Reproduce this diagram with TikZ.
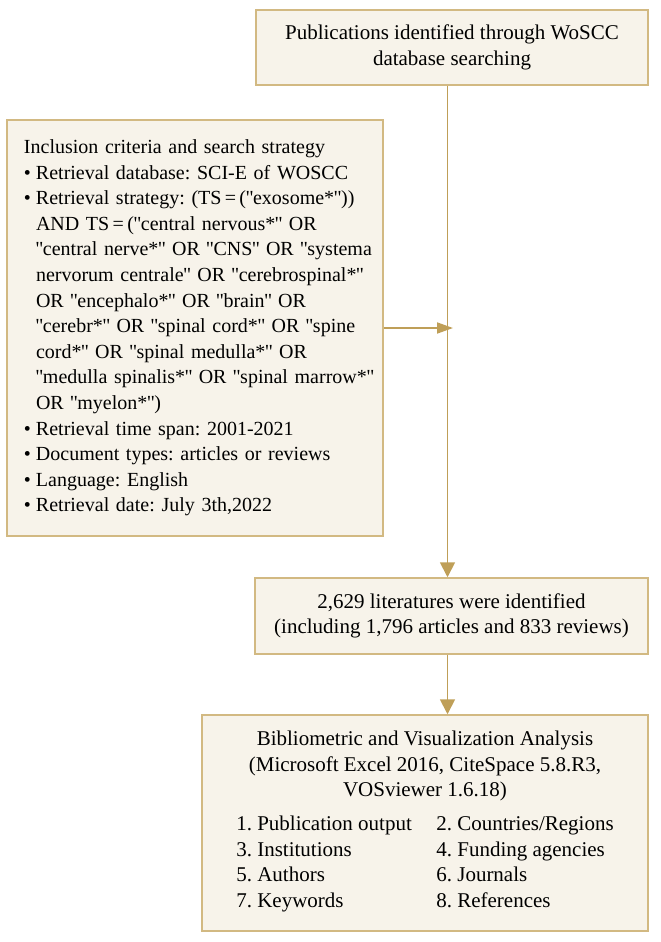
\documentclass[tikz,border=0pt]{standalone}
\usepackage{fontspec}
\setmainfont{Liberation Serif}
\usetikzlibrary{arrows.meta}
\definecolor{boxfill}{HTML}{F7F3EA}
\definecolor{boxline}{HTML}{D2B982}
\definecolor{arrowline}{HTML}{BF9F58}
\newcommand{\dq}{\kern-0.3pt\textquotedbl\kern-0.3pt}
\newcommand{\critem}[1]{\mbox{\textbullet\hspace{2.5pt}#1}}
\newcommand{\critind}[1]{\mbox{\phantom{\textbullet}\hspace{2.5pt}#1}}
\tikzset{
  flowbox/.style={draw=boxline,fill=boxfill,line width=0.75pt,rectangle,align=center,
    font=\fontsize{10.5}{12.75}\selectfont\frenchspacing},
  flowarrow/.style={draw=arrowline,line width=0.9pt,-{Triangle[length=7.5pt,width=7.5pt]}}
}

\begin{document}
\begin{tikzpicture}[x=0.5pt,y=-0.5pt]
      \useasboundingbox (0,0) rectangle (660,942);
      \node [flowbox,minimum width=196pt,minimum height=37.5pt] (wos) at (452,47.5)
        {Publications identified through WoSCC\\database searching};
      \node [flowbox,align=left,text width=171pt,inner xsep=8.5pt,minimum height=208pt,
        font=\fontsize{10}{12.8}\selectfont\frenchspacing] (crit) at (195,328)
        {\mbox{Inclusion criteria and search strategy}\\
         \critem{Retrieval database: SCI-E of WOSCC}\\
         \critem{Retrieval strategy: (TS\,=\,(\dq exosome*\dq))}\\
         \critind{AND TS\,=\,(\dq central nervous*\dq{} OR}\\
         \critind{\dq central nerve*\dq{} OR \dq CNS\dq{} OR \dq systema}\\
         \critind{nervorum centrale\dq{} OR \dq cerebrospinal*\dq}\\
         \critind{OR \dq encephalo*\dq{} OR \dq brain\dq{} OR}\\
         \critind{\dq cerebr*\dq{} OR \dq spinal cord*\dq{} OR \dq spine}\\
         \critind{cord*\dq{} OR \dq spinal medulla*\dq{} OR}\\
         \critind{\dq medulla spinalis*\dq{} OR \dq spinal marrow*\dq}\\
         \critind{OR \dq myelon*\dq)}\\
         \critem{Retrieval time span: 2001-2021}\\
         \critem{Document types: articles or reviews}\\
         \critem{Language: English}\\
         \critem{Retrieval date: July 3th,2022}};
      \node [flowbox,minimum width=196.5pt,minimum height=38pt] (lit) at (451.5,616)
        {2,629 literatures were identified\\(including 1,796 articles and 833 reviews)};
      \node [flowbox,minimum width=223pt,minimum height=108pt] (ana) at (425,823)
        {Bibliometric and Visualization Analysis\\
         (Microsoft Excel 2016, CiteSpace 5.8.R3,\\
         VOSviewer 1.6.18)\\[5pt]
         \begin{tabular}{@{}p{100pt}@{}l@{}}
           1. Publication output & 2. Countries/Regions\\
           3. Institutions & 4. Funding agencies\\
           5. Authors & 6. Journals\\
           7. Keywords & 8. References
         \end{tabular}};
      \coordinate (spine) at (447.5,0);
      \draw[flowarrow] (wos.south -| spine) -- (lit.north -| spine);
      \draw[flowarrow,-{Triangle[length=8pt,width=5.5pt]},shorten >=-2.75pt] (crit.east) -- (crit.east -| spine);
      \draw[flowarrow] (lit.south -| spine) -- (ana.north -| spine);
\end{tikzpicture}
\end{document}
